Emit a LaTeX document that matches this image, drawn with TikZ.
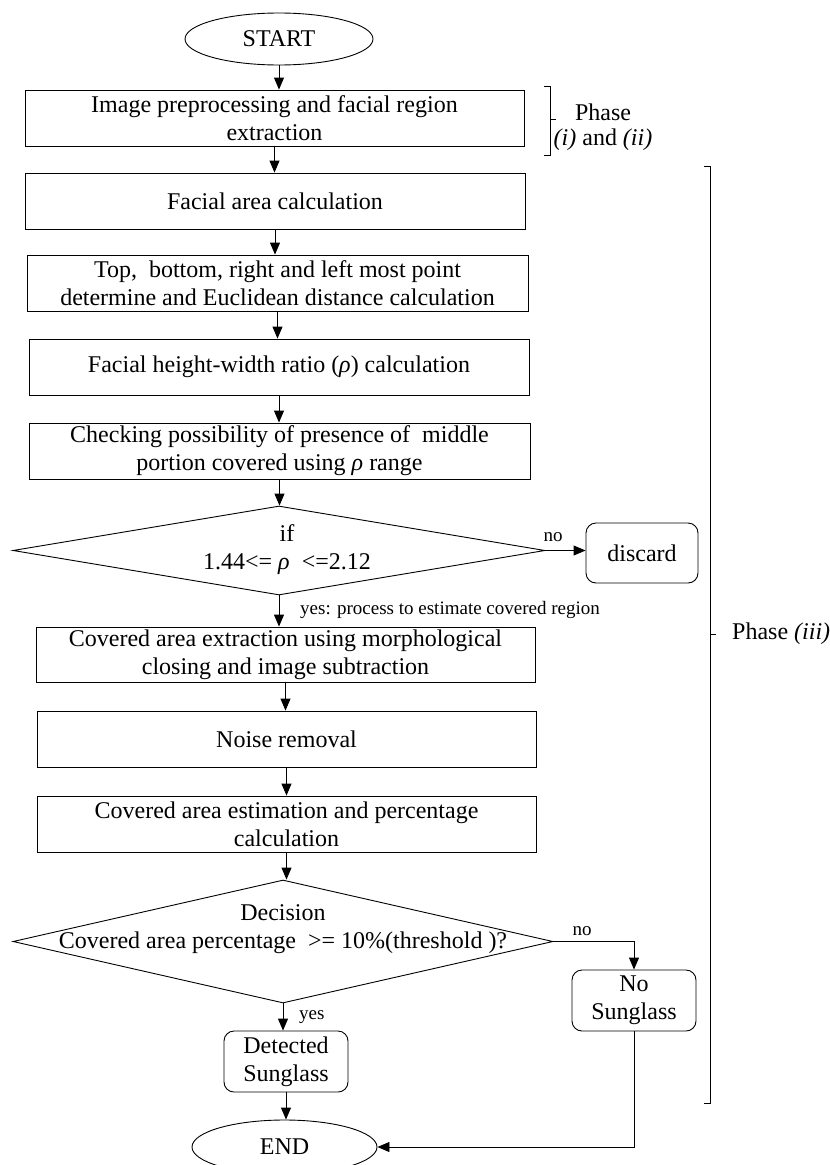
\documentclass[tikz,border=0pt]{standalone}
\usepackage{fontspec}
\setmainfont{Liberation Serif}
\usetikzlibrary{shapes.geometric,arrows.meta,calc}
\begin{document}
\begin{tikzpicture}[x=1pt,y=-1pt,
  every node/.style={font=\fontsize{24}{28}\selectfont},
  line/.style={line width=0.9pt},
  arr/.style={line width=0.9pt,-{Triangle[length=12pt,width=10pt]}},
  procbox/.style={draw,line width=0.9pt,rectangle,align=center,inner sep=0pt},
  roundbox/.style={draw,line width=0.9pt,rectangle,rounded corners=10pt,align=center,inner sep=0pt},
  term/.style={draw,line width=0.9pt,ellipse,inner sep=0pt},
  decis/.style={draw,line width=0.9pt,diamond,inner sep=0pt},
  lbl/.style={font=\fontsize{19}{22}\selectfont,inner sep=0pt},
  txt/.style={align=center,inner sep=0pt}]
\useasboundingbox (0,0) rectangle (830,1165);

\node[term,minimum width=188pt,minimum height=52pt] (start) at (279,39) {START};
\node[procbox,minimum width=499pt,minimum height=56pt] (b1) at (274.5,118) {Image preprocessing and facial region\\extraction};
\node[procbox,minimum width=500pt,minimum height=56pt] (b2) at (275,201) {Facial area calculation};
\node[procbox,minimum width=501pt,minimum height=56pt] (b3) at (277.5,283) {Top,\ \ bottom, right and left most point\\determine and Euclidean distance calculation};
\node[procbox,minimum width=500pt,minimum height=56pt] (b4) at (279,367) {Facial height-width ratio (\textit{ρ}) calculation};
\node[procbox,minimum width=501pt,minimum height=56pt] (b5) at (279.5,451) {Checking possibility of presence of\ \ middle\\portion covered using \textit{ρ} range};
\node[decis,minimum width=532pt,minimum height=89pt] (d1) at (279,550.5) {};
\node[txt] (d1t) at (287,550) {if\\1.44<= \textit{ρ}\ \ <=2.12};
\node[roundbox,minimum width=112pt,minimum height=60pt] (disc) at (642,553) {discard};
\node[procbox,minimum width=499pt,minimum height=55pt] (b6) at (285.5,654.5) {Covered area extraction using morphological\\closing and image subtraction};
\node[procbox,minimum width=499pt,minimum height=56pt] (b7) at (286.5,739) {Noise removal};
\node[procbox,minimum width=499pt,minimum height=56pt] (b8) at (286.5,824) {Covered area estimation and percentage\\calculation};
\node[decis,minimum width=540pt,minimum height=123pt] (d2) at (283,941.5) {};
\node[txt] (d2t) at (283,929) {Decision\\Covered area percentage\ \ >= 10\%(threshold\ )?};
\node[roundbox,minimum width=124pt,minimum height=61pt] (nosun) at (634,1000.5) {No\\Sunglass};
\node[roundbox,minimum width=124pt,minimum height=61pt] (det) at (286,1061.5) {Detected\\Sunglass};
\node[term,minimum width=185pt,minimum height=54pt] (end) at (284.5,1147) {END};

\draw[arr] (start.south) -- (start.south |- b1.north);
\draw[arr] (b1.south) -- (b1.south |- b2.north);
\draw[arr] (b2.south) -- (b2.south |- b3.north);
\draw[arr] (b3.south) -- (b3.south |- b4.north);
\draw[arr] (b4.south) -- (b4.south |- b5.north);
\draw[arr] (b5.south) -- (b5.south |- d1.north);
\draw[arr] (d1.east) -- (d1.east -| disc.west);
\draw[arr] (d1.south) -- (d1.south |- b6.north);
\draw[arr] (b6.south) -- (b6.south |- b7.north);
\draw[arr] (b7.south) -- (b7.south |- b8.north);
\draw[arr] (b8.south) -- (b8.south |- d2.north);
\draw[arr] (d2.east) -| (nosun.north);
\draw[arr] (d2.south) -- (d2.south |- det.north);
\draw[arr] (det.south) -- (det.south |- end.north);
\draw[arr] (nosun.south) |- (end.east);

\node[lbl] (no1) at (553,537) {no};
\node[lbl,anchor=west] (yes1) at (300,610) {yes: process to estimate covered region};
\node[lbl] (no2) at (582,931) {no};
\node[lbl,anchor=west] (yes2) at (299,1017) {yes};

% phase brackets
\draw[line] (544,86) -- (550,86) -- (550,155) -- (544,155);
\draw[line] (550,119) -- (556,119);
\node[txt] (ph1) at (603,112) {Phase};
\node[txt] (ph1b) at (603,140) {\textit{(i)} and \textit{(ii)}};
\draw[line] (704,166) -- (710,166) -- (710,1103) -- (704,1103);
\draw[line] (710,634) -- (716,634);
\node[txt,anchor=west] (ph2) at (732,634) {Phase \textit{(iii)}};
\end{tikzpicture}
\end{document}
